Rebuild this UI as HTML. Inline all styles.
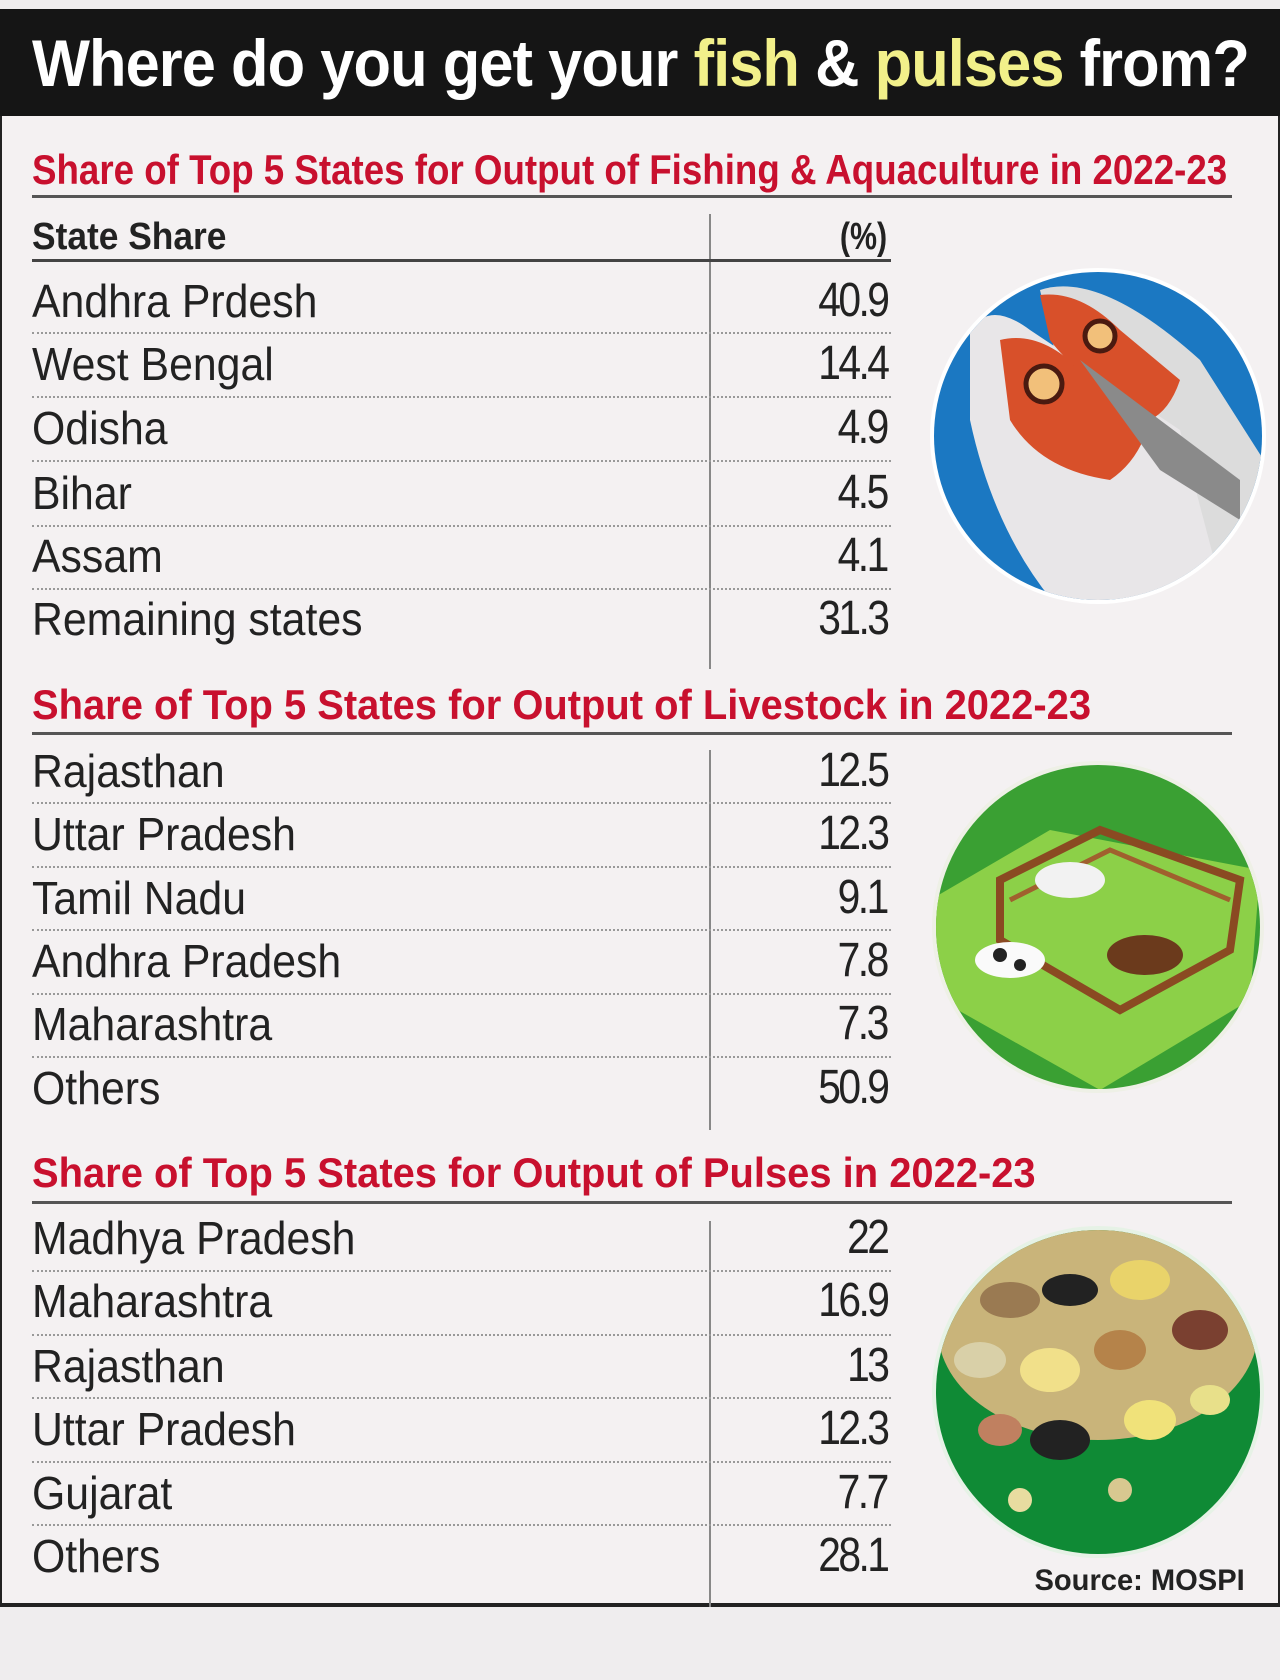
<!DOCTYPE html>
<html><head><meta charset="utf-8"><style>
*{margin:0;padding:0;box-sizing:border-box}
body{width:1280px;height:1680px;background:#efedee;position:relative;overflow:hidden;font-family:"Liberation Sans",sans-serif}
.t{position:absolute;white-space:nowrap;line-height:1}
.hdr{position:absolute;left:0;top:9px;width:1280px;height:107px;background:#151515}
.panel{position:absolute;left:0;top:116px;width:1280px;height:1491px;background:#f4f1f2;border-left:2px solid #222;border-right:2px solid #222;border-bottom:4px solid #222}
.sec{color:#c8102e;font-weight:bold;font-size:42px;transform-origin:left center;left:32px}
.ul{position:absolute;left:32px;width:1200px;height:3px;background:#555}
.row{font-size:46px;color:#222;left:32px;transform:scaleX(0.93);transform-origin:left center;margin-top:-2px}
.num{font-size:48px;color:#222;right:393px;transform:scaleX(0.85);transform-origin:right center;letter-spacing:-3px;margin-top:-3px}
.dot{position:absolute;left:32px;width:859px;border-top:2px dotted #999}
.vl{position:absolute;left:709px;width:2px;background:#888}
</style></head><body>
<div class="hdr"></div>
<div class="t" style="left:32px;top:30px;font-size:66px;font-weight:bold;color:#fff;transform:scaleX(0.93);transform-origin:left top;letter-spacing:-1px">Where do you get your <span style="color:#f2f08a">fish</span> &amp; <span style="color:#f2f08a">pulses</span> from?</div>
<div class="panel"></div>

<!-- Section 1 -->
<div class="t sec" style="top:149px;transform:scaleX(0.874)">Share of Top 5 States for Output of Fishing &amp; Aquaculture in 2022-23</div>
<div class="ul" style="top:195px"></div>
<div class="vl" style="top:214px;height:455px"></div>
<div class="t" style="left:32px;top:218px;font-size:38px;font-weight:bold;color:#222;transform:scaleX(0.93);transform-origin:left center">State Share</div>
<div class="t" style="right:393px;top:218px;font-size:38px;font-weight:bold;color:#222;transform:scaleX(0.8);transform-origin:right center">(%)</div>
<div style="position:absolute;left:32px;top:259px;width:859px;height:3px;background:#444"></div>
<div class="t row" style="top:280px">Andhra Prdesh</div><div class="t num" style="top:280px">40.9</div>
<div class="dot" style="top:332px"></div>
<div class="t row" style="top:343px">West Bengal</div><div class="t num" style="top:343px">14.4</div>
<div class="dot" style="top:396px"></div>
<div class="t row" style="top:407px">Odisha</div><div class="t num" style="top:407px">4.9</div>
<div class="dot" style="top:460px"></div>
<div class="t row" style="top:472px">Bihar</div><div class="t num" style="top:472px">4.5</div>
<div class="dot" style="top:525px"></div>
<div class="t row" style="top:535px">Assam</div><div class="t num" style="top:535px">4.1</div>
<div class="dot" style="top:588px"></div>
<div class="t row" style="top:598px">Remaining states</div><div class="t num" style="top:598px">31.3</div>

<!-- Section 2 -->
<div class="t sec" style="top:684px;transform:scaleX(0.95)">Share of Top 5 States for Output of Livestock in 2022-23</div>
<div class="ul" style="top:732px"></div>
<div class="vl" style="top:750px;height:380px"></div>
<div class="t row" style="top:750px">Rajasthan</div><div class="t num" style="top:750px">12.5</div>
<div class="dot" style="top:802px"></div>
<div class="t row" style="top:813px">Uttar Pradesh</div><div class="t num" style="top:813px">12.3</div>
<div class="dot" style="top:866px"></div>
<div class="t row" style="top:877px">Tamil Nadu</div><div class="t num" style="top:877px">9.1</div>
<div class="dot" style="top:929px"></div>
<div class="t row" style="top:940px">Andhra Pradesh</div><div class="t num" style="top:940px">7.8</div>
<div class="dot" style="top:993px"></div>
<div class="t row" style="top:1003px">Maharashtra</div><div class="t num" style="top:1003px">7.3</div>
<div class="dot" style="top:1056px"></div>
<div class="t row" style="top:1067px">Others</div><div class="t num" style="top:1067px">50.9</div>

<!-- Section 3 -->
<div class="t sec" style="top:1152px;transform:scaleX(0.95)">Share of Top 5 States for Output of Pulses in 2022-23</div>
<div class="ul" style="top:1201px"></div>
<div class="vl" style="top:1221px;height:386px"></div>
<div class="t row" style="top:1217px">Madhya Pradesh</div><div class="t num" style="top:1217px">22</div>
<div class="dot" style="top:1270px"></div>
<div class="t row" style="top:1280px">Maharashtra</div><div class="t num" style="top:1280px">16.9</div>
<div class="dot" style="top:1334px"></div>
<div class="t row" style="top:1345px">Rajasthan</div><div class="t num" style="top:1345px">13</div>
<div class="dot" style="top:1397px"></div>
<div class="t row" style="top:1408px">Uttar Pradesh</div><div class="t num" style="top:1408px">12.3</div>
<div class="dot" style="top:1461px"></div>
<div class="t row" style="top:1472px">Gujarat</div><div class="t num" style="top:1472px">7.7</div>
<div class="dot" style="top:1524px"></div>
<div class="t row" style="top:1535px">Others</div><div class="t num" style="top:1535px">28.1</div>
<div class="t" style="right:35px;top:1566px;font-size:30px;font-weight:bold;color:#222;transform:scaleX(0.97);transform-origin:right center">Source: MOSPI</div>

<!-- Illustrations -->
<svg style="position:absolute;left:0;top:0" width="1280" height="1680">
 <defs>
  <clipPath id="c1"><circle cx="1098" cy="436" r="164"/></clipPath>
  <clipPath id="c2"><circle cx="1098" cy="927" r="162"/></clipPath>
  <clipPath id="c3"><circle cx="1098" cy="1392" r="162"/></clipPath>
 </defs>
 <circle cx="1098" cy="436" r="168" fill="#fff"/>
 <circle cx="1098" cy="436" r="164" fill="#1b78c2"/>
 <g clip-path="url(#c1)">
  <path d="M1040 290 Q1100 270 1200 360 L1270 470 L1230 620 L1120 620 Z" fill="#dcdcdc"/>
  <path d="M970 330 Q990 300 1030 330 L1180 430 L1230 620 L1090 640 Q1000 560 970 420 Z" fill="#e8e6e8"/>
  <path d="M1000 340 Q1040 330 1080 370 L1150 420 Q1140 460 1110 480 Q1040 470 1010 420 Z" fill="#d8502a"/>
  <path d="M1040 295 Q1080 290 1120 330 L1180 380 Q1170 410 1150 420 Q1080 380 1050 340 Z" fill="#d8502a"/>
  <circle cx="1044" cy="384" r="18" fill="#f2c07a" stroke="#4a1a10" stroke-width="5"/>
  <circle cx="1100" cy="336" r="15" fill="#f2c07a" stroke="#4a1a10" stroke-width="5"/>
  <path d="M1080 360 L1240 480 L1240 520 L1160 470 Z" fill="#8a8a8a"/>
 </g>
 <circle cx="1098" cy="927" r="166" fill="#eef0e6"/>
 <circle cx="1098" cy="927" r="162" fill="#3aa033"/>
 <g clip-path="url(#c2)">
  <path d="M930 900 L1050 830 L1260 870 L1250 1000 L1100 1090 L940 1000 Z" fill="#8cd048"/>
  <path d="M1000 880 L1100 830 L1240 880 L1230 950 L1120 1010 L1000 940 Z" fill="none" stroke="#8a4a22" stroke-width="8"/>
  <path d="M1010 900 L1110 850 L1230 900" fill="none" stroke="#a0602e" stroke-width="5"/>
  <ellipse cx="1070" cy="880" rx="35" ry="18" fill="#f2f2f2"/>
  <ellipse cx="1145" cy="955" rx="38" ry="20" fill="#6b3a1c"/>
  <ellipse cx="1010" cy="960" rx="35" ry="18" fill="#fafafa"/>
  <circle cx="1000" cy="955" r="7" fill="#222"/><circle cx="1020" cy="965" r="6" fill="#222"/>
 </g>
 <circle cx="1098" cy="1392" r="166" fill="#e6f2e6"/>
 <circle cx="1098" cy="1392" r="162" fill="#0f8a35"/>
 <g clip-path="url(#c3)">
  <ellipse cx="1098" cy="1330" rx="160" ry="110" fill="#c9b47a"/>
  <ellipse cx="1010" cy="1300" rx="30" ry="18" fill="#9a7a52"/>
  <ellipse cx="1070" cy="1290" rx="28" ry="16" fill="#222"/>
  <ellipse cx="1140" cy="1280" rx="30" ry="20" fill="#e9d36a"/>
  <ellipse cx="1200" cy="1330" rx="28" ry="20" fill="#7a4030"/>
  <ellipse cx="980" cy="1360" rx="26" ry="18" fill="#d9d0a8"/>
  <ellipse cx="1050" cy="1370" rx="30" ry="22" fill="#f1e08a"/>
  <ellipse cx="1120" cy="1350" rx="26" ry="20" fill="#b5834a"/>
  <ellipse cx="1060" cy="1440" rx="30" ry="20" fill="#222"/>
  <ellipse cx="1150" cy="1420" rx="26" ry="20" fill="#f0e27a"/>
  <ellipse cx="1000" cy="1430" rx="22" ry="16" fill="#c08060"/>
  <ellipse cx="1210" cy="1400" rx="20" ry="15" fill="#e8e08a"/>
  <circle cx="1020" cy="1500" r="12" fill="#e8dca0"/><circle cx="1120" cy="1490" r="12" fill="#d8c890"/>
 </g>
</svg>
</body></html>
